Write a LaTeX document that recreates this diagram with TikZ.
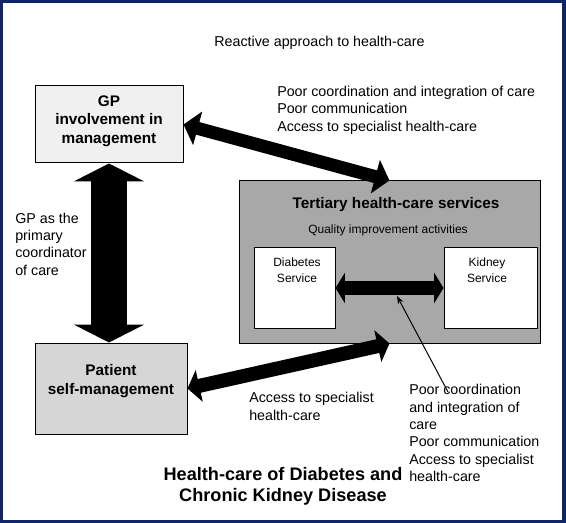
\documentclass[tikz,border=0pt]{standalone}
\usepackage{fontspec}
\setmainfont{Liberation Sans}
\usepackage{tikz}
\usetikzlibrary{arrows.meta}
\usepackage{xcolor}
\definecolor{framenavy}{RGB}{14,38,104}
\definecolor{gpgray}{RGB}{240,240,240}
\definecolor{patgray}{RGB}{214,214,214}
\definecolor{tergray}{RGB}{168,168,168}
\newcommand{\szbody}{\fontsize{10.7pt}{13pt}\selectfont}
\newcommand{\szbox}{\fontsize{11.5pt}{13.8pt}\selectfont}
\newcommand{\szsmall}{\fontsize{9pt}{12pt}\selectfont}
\newcommand{\sztitle}{\fontsize{13.6pt}{15.8pt}\selectfont}

\begin{document}
\begin{tikzpicture}[x=0.75pt,y=-0.75pt,line cap=butt,
  box/.style={draw,line width=0.75pt,inner sep=0pt},
  txt/.style={font=\szbody,align=left,inner sep=0pt},
  hdr/.style={font=\szbox\bfseries,align=center,inner sep=0pt},
  small/.style={font=\szsmall,align=center,inner sep=0pt},
  bigtitle/.style={font=\sztitle\bfseries,align=center,inner sep=0pt}]
\useasboundingbox (0,0) rectangle (566,523);
\draw[framenavy,line width=2.6pt] (1.7,1.7) rectangle (564,521.3);
% boxes
\node[box,fill=gpgray,minimum width=111pt,minimum height=57.75pt] (gp) at (109,124.5) {};
\node[box,fill=patgray,minimum width=114pt,minimum height=68.25pt] (pat) at (111,388.5) {};
\node[box,fill=tergray,minimum width=225.75pt,minimum height=121.5pt] (ter) at (389.5,262) {};
\node[box,fill=white,minimum width=60.75pt,minimum height=60pt] (dia) at (294.5,288) {};
\node[box,fill=white,minimum width=69.75pt,minimum height=60pt] (kid) at (490.5,288) {};
% block arrows
\draw[line width=27pt,{Triangle[length=13.5pt,width=52.5pt]}-{Triangle[length=13.5pt,width=52.5pt]}]
  (gp.south) -- (gp.south |- pat.north);
\draw[line width=9.75pt,{Triangle[length=11pt,width=25.5pt]}-{Triangle[length=11pt,width=25.5pt]}]
  (gp.east) -- (ter.north);
\draw[line width=10.5pt,{Triangle[length=9pt,width=24pt]}-{Triangle[length=9pt,width=24pt]}]
  (pat.east) -- (ter.south);
\draw[line width=10.5pt,{Triangle[length=7pt,width=22.5pt]}-{Triangle[length=7pt,width=22.5pt]}]
  (dia.east) -- (kid.west);
% pointer from the note
\coordinate (hit) at (397,296);
\coordinate (pin) at (448,392);
\draw[line width=0.75pt,-{Stealth[length=6pt,width=4.5pt]}] (pin) -- (hit);
% texts
\node[txt] (react) at (319.5,43) {Reactive approach to health-care};
\node[txt,anchor=west] (topnote) at (277,110) {Poor coordination and integration of care\\Poor communication\\Access to specialist health-care};
\node[txt,anchor=west] (gpnote) at (15,244) {GP as the\\primary\\coordinator\\of care};
\node[txt,anchor=west] (accnote) at (249,406.5) {Access to specialist\\health-care};
\node[txt,anchor=west] (midnote) at (409,433) {Poor coordination\\and integration of\\care\\Poor communication\\Access to specialist\\health-care};
\node[hdr] (gptext) at (109,121) {GP\\involvement in\\management};
\node[hdr] (pattext) at (111,381) {Patient\\self-management};
\node[hdr] (tertitle) at (396,205) {Tertiary health-care services};
\node[small] (quality) at (388,230) {Quality improvement activities};
\node[small] (diatext) at (297,270) {Diabetes\\Service};
\node[small] (kidtext) at (487,270) {Kidney\\Service};
\node[bigtitle] (title) at (283,486.5) {Health-care of Diabetes and\\Chronic Kidney Disease};
\end{tikzpicture}
\end{document}
